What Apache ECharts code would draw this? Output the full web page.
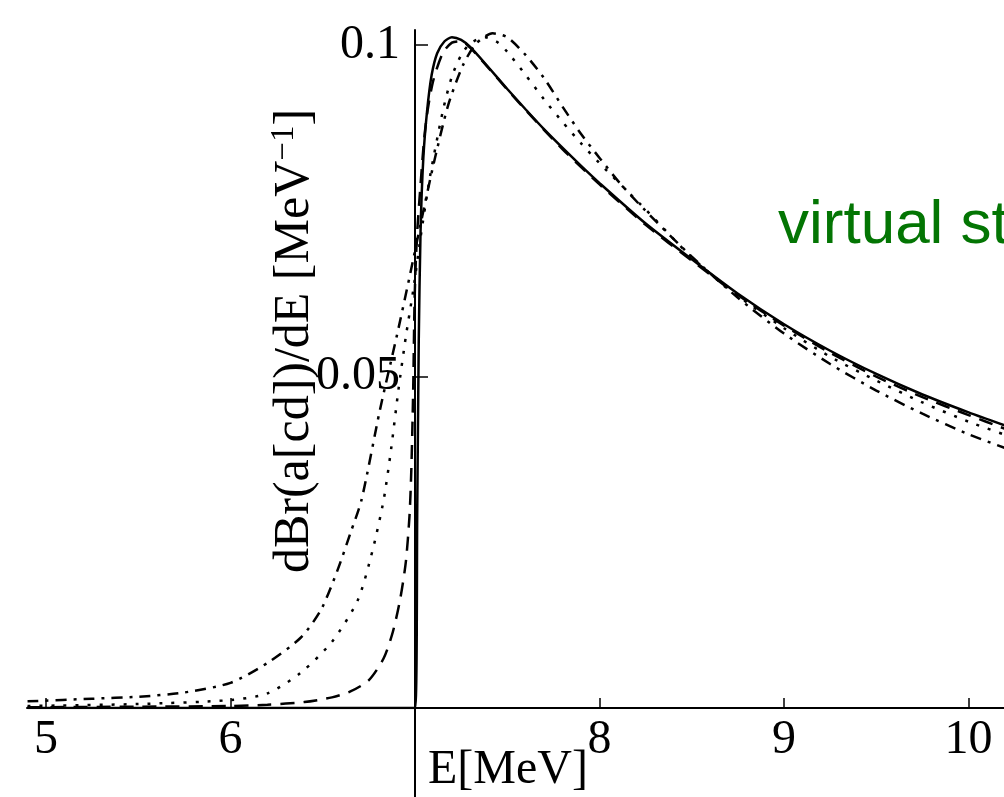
<!DOCTYPE html>
<html>
<head>
<meta charset="utf-8">
<script src="https://cdn.jsdelivr.net/npm/echarts@6/dist/echarts.min.js"></script>
<style>
  html, body { margin: 0; padding: 0; background: #fff; }
  #chart { width: 1004px; height: 797px; }
</style>
</head>
<body>
<div id="chart"></div>
<script>
// tick positions
var xTicks = [5, 6, 8, 9, 10];
var yTicks = [0.05, 0.1];

// solid curve: zero below threshold, sharp rise at E = 7
var solidE = [4.9, 7.0, 7.012, 7.02, 7.03, 7.045, 7.065, 7.09, 7.12, 7.16, 7.2, 7.25, 7.3, 7.4, 7.5, 7.6, 7.7, 7.8, 7.9, 8.0, 8.25, 8.5, 8.75, 9.0, 9.25, 9.5, 9.75, 10.0, 10.2];
var solidBr = [0, 0, 0.03, 0.055, 0.072, 0.083, 0.090, 0.0955, 0.0988, 0.1006, 0.1012, 0.1008, 0.0997, 0.0966, 0.0934, 0.0903, 0.0873, 0.0845, 0.0818, 0.0792, 0.0731, 0.0677, 0.0625, 0.0579, 0.0539, 0.0504, 0.0473, 0.0446, 0.0426];

// dashed curve
var dashedE = [4.9, 5.5, 6.0, 6.2, 6.4, 6.55, 6.65, 6.75, 6.83, 6.88, 6.92, 6.95, 6.97, 6.98, 6.99, 6.998, 7.01, 7.03, 7.05, 7.07, 7.1, 7.15, 7.2, 7.25, 7.3, 7.4, 7.5, 7.6, 7.7, 7.8, 7.9, 8.0, 8.25, 8.5, 8.75, 9.0, 9.25, 9.5, 9.75, 10.0, 10.2];
var dashedBr = [0.0001, 0.0002, 0.0003, 0.0005, 0.0009, 0.0016, 0.0025, 0.0042, 0.0075, 0.0115, 0.0165, 0.022, 0.029, 0.036, 0.048, 0.062, 0.071, 0.079, 0.086, 0.0905, 0.0948, 0.0988, 0.1004, 0.1006, 0.0996, 0.0965, 0.0933, 0.0902, 0.0872, 0.0843, 0.0816, 0.0790, 0.0729, 0.0675, 0.0623, 0.0577, 0.0536, 0.0500, 0.0469, 0.0442, 0.0421];

// dotted curve
var dottedE = [4.9, 5.5, 6.0, 6.2, 6.38, 6.55, 6.69, 6.77, 6.83, 6.87, 6.91, 6.95, 6.99, 7.03, 7.08, 7.15, 7.2, 7.25, 7.3, 7.38, 7.45, 7.5, 7.6, 7.7, 7.8, 7.9, 8.0, 8.25, 8.5, 8.75, 9.0, 9.25, 9.5, 9.75, 10.0, 10.2];
var dottedBr = [0.0003, 0.0006, 0.0012, 0.0022, 0.0053, 0.0100, 0.0163, 0.0238, 0.0314, 0.039, 0.048, 0.056, 0.063, 0.071, 0.080, 0.090, 0.0953, 0.0985, 0.1003, 0.1012, 0.1004, 0.0990, 0.0955, 0.0918, 0.0884, 0.0852, 0.0822, 0.0752, 0.0680, 0.0622, 0.0573, 0.0530, 0.0494, 0.0461, 0.0432, 0.0412];

// dash-dot curve
var dashDotE = [4.9, 5.25, 5.5, 5.74, 6.0, 6.2, 6.38, 6.49, 6.58, 6.65, 6.71, 6.81, 6.9, 6.97, 7.03, 7.1, 7.18, 7.26, 7.33, 7.42, 7.5, 7.6, 7.7, 7.8, 7.9, 8.0, 8.11, 8.25, 8.5, 8.75, 9.0, 9.25, 9.5, 9.75, 10.0, 10.2];
var dashDotBr = [0.0010, 0.0014, 0.0017, 0.0023, 0.0038, 0.0068, 0.0106, 0.0148, 0.0208, 0.0264, 0.0314, 0.045, 0.056, 0.065, 0.073, 0.082, 0.091, 0.097, 0.1002, 0.1018, 0.1012, 0.0985, 0.0950, 0.0907, 0.0866, 0.0830, 0.0792, 0.0750, 0.0681, 0.0619, 0.0565, 0.0519, 0.0479, 0.0444, 0.0413, 0.0392];

function pairs(xs, ys) {
  return xs.map(function (x, i) { return [x, ys[i]]; });
}

var serif = "Liberation Serif";
var chart = echarts.init(document.getElementById("chart"));

function curve(name, xs, ys, dash) {
  return {
    name: name,
    type: "line",
    data: pairs(xs, ys),
    showSymbol: false,
    smooth: 0.25,
    lineStyle: { color: "#000", width: 2.5, type: dash, cap: "butt" },
  };
}

var option = {
  animation: false,
  backgroundColor: "#fff",
  grid: [
    { left: 27, right: 0, top: 30, bottom: 89, containLabel: false, outerBoundsMode: "none" },
    // strip under the E axis: only carries the continued vertical axis line
    { left: 27, right: 0, top: 708, bottom: 0, containLabel: false, outerBoundsMode: "none" },
  ],
  xAxis: [
    {
      type: "value",
      min: 4.897,
      max: 10.192,
      splitLine: { show: false },
      axisLine: { lineStyle: { color: "#000", width: 2 } },
      axisTick: {
        customValues: xTicks,
        inside: true,
        length: 10,
        lineStyle: { color: "#000", width: 1.5 },
      },
      axisLabel: {
        customValues: xTicks,
        color: "#000",
        fontFamily: serif,
        fontSize: 48,
        margin: 8,
      },
    },
    { gridIndex: 1, type: "value", min: 4.897, max: 10.192, show: false },
  ],
  yAxis: [
    {
      type: "value",
      min: 0,
      max: 0.1023,
      position: "left",
      offset: -388,
      splitLine: { show: false },
      axisLine: { show: true, onZero: false, lineStyle: { color: "#000", width: 2 } },
      axisTick: {
        show: true,
        customValues: yTicks,
        inside: true,
        length: 13,
        lineStyle: { color: "#000", width: 1.5 },
      },
      axisLabel: {
        customValues: yTicks,
        color: "#000",
        fontFamily: serif,
        fontSize: 48,
        margin: 15,
        formatter: function (v) { return String(v); },
      },
    },
    {
      gridIndex: 1,
      type: "value",
      min: 0,
      max: 1,
      position: "left",
      offset: -388,
      splitLine: { show: false },
      axisLine: { show: true, onZero: false, lineStyle: { color: "#000", width: 2 } },
      axisTick: { show: false },
      axisLabel: { show: false },
    },
  ],
  graphic: [
    {
      type: "text",
      x: 295,
      y: 341,
      rotation: Math.PI / 2,
      style: {
        text: "dBr(a[cd])/dE [MeV{sup|−1}]",
        fontFamily: serif,
        fontSize: 50,
        fill: "#000",
        textAlign: "center",
        textVerticalAlign: "middle",
        rich: {
          sup: { fontFamily: serif, fontSize: 33, verticalAlign: "top", lineHeight: 54 },
        },
      },
    },
    {
      type: "text",
      x: 508,
      y: 770,
      style: {
        text: "E[MeV]",
        fontFamily: serif,
        fontSize: 48,
        fill: "#000",
        textAlign: "center",
        textVerticalAlign: "middle",
      },
    },
    {
      type: "text",
      x: 778,
      y: 226,
      style: {
        text: "virtual state",
        fontFamily: "Liberation Sans",
        fontSize: 62,
        fill: "#037503",
        textAlign: "left",
        textVerticalAlign: "middle",
      },
    },
  ],
  series: [
    curve("solid", solidE, solidBr, "solid"),
    curve("dashed", dashedE, dashedBr, [14, 9]),
    curve("dotted", dottedE, dottedBr, [3, 9]),
    curve("dashdot", dashDotE, dashDotBr, [11, 7, 3, 7]),
  ],
};

chart.setOption(option);
window.onresize = chart.resize;
</script>
</body>
</html>
